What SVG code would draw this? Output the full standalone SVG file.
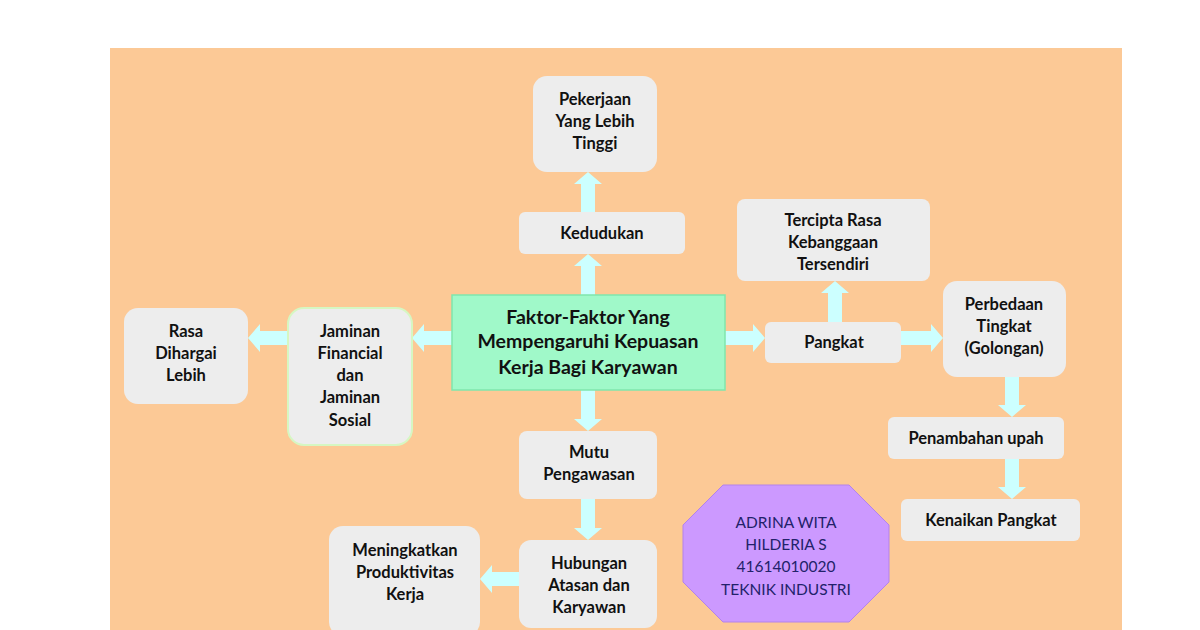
<svg xmlns="http://www.w3.org/2000/svg" width="1200" height="630" viewBox="0 0 1200 630">
<style>
.box{fill:#ededed;stroke:none}
.t{font-family:Lato,"Open Sans","Liberation Sans",sans-serif;font-weight:bold;font-size:16.5px;fill:#111;text-anchor:middle}
.tc{font-family:Lato,"Open Sans","Liberation Sans",sans-serif;font-weight:bold;font-size:19.5px;fill:#111;text-anchor:middle}
.tn{font-family:Lato,"Open Sans","Liberation Sans",sans-serif;font-size:15.5px;fill:#22226a;text-anchor:middle}
.arr{fill:#ccffff;stroke:none}
</style>
<rect x="0" y="0" width="1200" height="630" fill="#ffffff"/>
<rect x="110" y="48" width="1012" height="590" fill="#fcc996"/>
<g id="connectors">
<polygon class="arr" points="581,295 581,266 574,266 588,254 602,266 595,266 595,295"/>
<polygon class="arr" points="581,212 581,184 574,184 588,172 602,184 595,184 595,212"/>
<polygon class="arr" points="452,331 424,331 424,324 412,338 424,352 424,345 452,345"/>
<polygon class="arr" points="288,331 260,331 260,324 248,338 260,352 260,345 288,345"/>
<polygon class="arr" points="725,331 753,331 753,324 765,338 753,352 753,345 725,345"/>
<polygon class="arr" points="901,331 931,331 931,324 943,338 931,352 931,345 901,345"/>
<polygon class="arr" points="828,322 828,293 821,293 835,281 849,293 842,293 842,322"/>
<polygon class="arr" points="1005,377 1005,405 998,405 1012,417 1026,405 1019,405 1019,377"/>
<polygon class="arr" points="1005,459 1005,487 998,487 1012,499 1026,487 1019,487 1019,459"/>
<polygon class="arr" points="581,390 581,419 574,419 588,431 602,419 595,419 595,390"/>
<polygon class="arr" points="581,499 581,528 574,528 588,540 602,528 595,528 595,499"/>
<polygon class="arr" points="519,572 492,572 492,565 480,579 492,593 492,586 519,586"/>
</g>
<g id="center">
<rect x="452" y="295" width="273" height="95" fill="#a0f9c9" stroke="#7fe6ad" stroke-width="1.5"/>
<text class="tc" x="588" y="324">Faktor-Faktor Yang</text>
<text class="tc" x="588" y="348">Mempengaruhi Kepuasan</text>
<text class="tc" x="588" y="374">Kerja Bagi Karyawan</text>
</g>
<g id="pekerjaan">
<rect class="box" x="533" y="76" width="124" height="96" rx="14"/>
<text class="t" x="595" y="105">Pekerjaan</text>
<text class="t" x="595" y="127">Yang Lebih</text>
<text class="t" x="595" y="149">Tinggi</text>
</g>
<g id="kedudukan">
<rect class="box" x="519" y="212" width="166" height="42" rx="6"/>
<text class="t" x="602" y="239">Kedudukan</text>
</g>
<g id="jaminan">
<rect x="288" y="308" width="124" height="137" rx="16" fill="#ededed" stroke="#d6f7c2" stroke-width="2"/>
<text class="t" x="350" y="337">Jaminan</text>
<text class="t" x="350" y="359">Financial</text>
<text class="t" x="350" y="381">dan</text>
<text class="t" x="350" y="403">Jaminan</text>
<text class="t" x="350" y="426">Sosial</text>
</g>
<g id="rasa">
<rect class="box" x="124" y="308" width="124" height="96" rx="14"/>
<text class="t" x="186" y="337">Rasa</text>
<text class="t" x="186" y="359">Dihargai</text>
<text class="t" x="186" y="381">Lebih</text>
</g>
<g id="pangkat">
<rect class="box" x="765" y="322" width="136" height="41" rx="6"/>
<text class="t" x="834" y="348">Pangkat</text>
</g>
<g id="tercipta">
<rect class="box" x="737" y="199" width="193" height="82" rx="8"/>
<text class="t" x="833" y="226">Tercipta Rasa</text>
<text class="t" x="833" y="248">Kebanggaan</text>
<text class="t" x="833" y="270">Tersendiri</text>
</g>
<g id="perbedaan">
<rect class="box" x="943" y="281" width="123" height="96" rx="14"/>
<text class="t" x="1004" y="310">Perbedaan</text>
<text class="t" x="1004" y="332">Tingkat</text>
<text class="t" x="1004" y="354">(Golongan)</text>
</g>
<g id="penambahan">
<rect class="box" x="888" y="417" width="176" height="42" rx="6"/>
<text class="t" x="976" y="444">Penambahan upah</text>
</g>
<g id="kenaikan">
<rect class="box" x="901" y="499" width="179" height="42" rx="6"/>
<text class="t" x="991" y="526">Kenaikan Pangkat</text>
</g>
<g id="mutu">
<rect class="box" x="519" y="431" width="138" height="68" rx="8"/>
<text class="t" x="589" y="458">Mutu</text>
<text class="t" x="589" y="480">Pengawasan</text>
</g>
<g id="hubungan">
<rect class="box" x="519" y="540" width="138" height="88" rx="12"/>
<text class="t" x="589" y="569">Hubungan</text>
<text class="t" x="589" y="591">Atasan dan</text>
<text class="t" x="589" y="613">Karyawan</text>
</g>
<g id="meningkatkan">
<rect class="box" x="329" y="526" width="151" height="110" rx="14"/>
<text class="t" x="405" y="556">Meningkatkan</text>
<text class="t" x="405" y="578">Produktivitas</text>
<text class="t" x="405" y="600">Kerja</text>
</g>
<g id="identitas">
<polygon points="723,485 849,485 889,525 889,582 849,622 723,622 683,582 683,525" fill="#cc99ff" stroke="#b383ea" stroke-width="1"/>
<text class="tn" x="786" y="528">ADRINA WITA</text>
<text class="tn" x="786" y="550">HILDERIA S</text>
<text class="tn" x="786" y="572">41614010020</text>
<text class="tn" x="786" y="595">TEKNIK INDUSTRI</text>
</g>
</svg>
